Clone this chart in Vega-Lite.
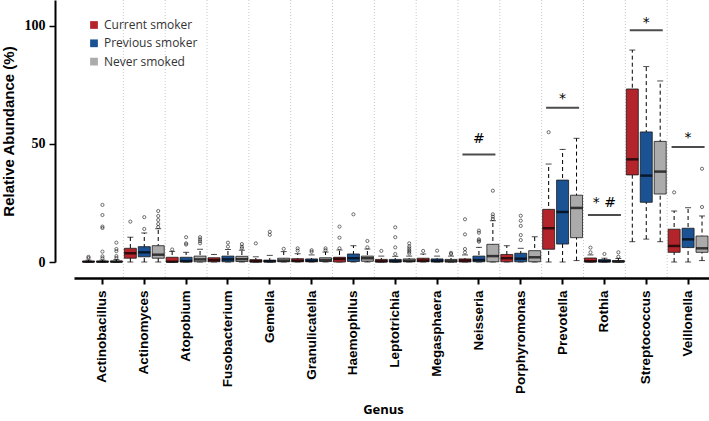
{
  "$schema": "https://vega.github.io/schema/vega-lite/v6.json",
  "width": 635,
  "height": 262,
  "autosize": {"type": "none"},
  "padding": {"left": 74, "top": 0, "right": 0, "bottom": 159},
  "background": "white",
  "config": {"view": {"stroke": null}},
  "datasets": {
    "boxes": [
      {"genus": "Actinobacillus", "group": "Current smoker", "lo": 0, "q1": 0, "med": 0.1, "q3": 0.3, "hi": 0.8},
      {"genus": "Actinobacillus", "group": "Previous smoker", "lo": 0, "q1": 0, "med": 0.1, "q3": 0.3, "hi": 0.8},
      {"genus": "Actinobacillus", "group": "Never smoked", "lo": 0, "q1": 0, "med": 0.1, "q3": 0.4, "hi": 1.0},
      {"genus": "Actinomyces", "group": "Current smoker", "lo": 0, "q1": 1.6, "med": 3.7, "q3": 5.8, "hi": 10.5},
      {"genus": "Actinomyces", "group": "Previous smoker", "lo": 0, "q1": 2.2, "med": 4.1, "q3": 6.5, "hi": 12.3},
      {"genus": "Actinomyces", "group": "Never smoked", "lo": 0, "q1": 1.6, "med": 3.1, "q3": 6.9, "hi": 14.1},
      {"genus": "Atopobium", "group": "Current smoker", "lo": 0, "q1": 0, "med": 0.1, "q3": 2.0, "hi": 4.5},
      {"genus": "Atopobium", "group": "Previous smoker", "lo": 0, "q1": 0, "med": 0.4, "q3": 2.0, "hi": 4.1},
      {"genus": "Atopobium", "group": "Never smoked", "lo": 0, "q1": 0.1, "med": 1.1, "q3": 2.5, "hi": 5.4},
      {"genus": "Fusobacterium", "group": "Current smoker", "lo": 0, "q1": 0.1, "med": 0.8, "q3": 1.8, "hi": 3.2},
      {"genus": "Fusobacterium", "group": "Previous smoker", "lo": 0, "q1": 0.1, "med": 1.1, "q3": 2.5, "hi": 5.3},
      {"genus": "Fusobacterium", "group": "Never smoked", "lo": 0, "q1": 0.2, "med": 1.2, "q3": 2.4, "hi": 5.0},
      {"genus": "Gemella", "group": "Current smoker", "lo": 0, "q1": 0, "med": 0.3, "q3": 1.0, "hi": 2.2},
      {"genus": "Gemella", "group": "Previous smoker", "lo": 0, "q1": 0, "med": 0.3, "q3": 0.8, "hi": 2.8},
      {"genus": "Gemella", "group": "Never smoked", "lo": 0, "q1": 0.1, "med": 0.6, "q3": 1.6, "hi": 4.4},
      {"genus": "Granulicatella", "group": "Current smoker", "lo": 0, "q1": 0.1, "med": 0.5, "q3": 1.4, "hi": 3.5},
      {"genus": "Granulicatella", "group": "Previous smoker", "lo": 0, "q1": 0.1, "med": 0.5, "q3": 1.3, "hi": 3.0},
      {"genus": "Granulicatella", "group": "Never smoked", "lo": 0, "q1": 0.2, "med": 0.8, "q3": 1.8, "hi": 4.2},
      {"genus": "Haemophilus", "group": "Current smoker", "lo": 0, "q1": 0, "med": 1.3, "q3": 2.0, "hi": 5.1},
      {"genus": "Haemophilus", "group": "Previous smoker", "lo": 0, "q1": 0.2, "med": 1.6, "q3": 3.4, "hi": 6.9},
      {"genus": "Haemophilus", "group": "Never smoked", "lo": 0, "q1": 0.3, "med": 1.6, "q3": 2.5, "hi": 5.5},
      {"genus": "Leptotrichia", "group": "Current smoker", "lo": 0, "q1": 0, "med": 0.3, "q3": 1.1, "hi": 2.5},
      {"genus": "Leptotrichia", "group": "Previous smoker", "lo": 0, "q1": 0, "med": 0.3, "q3": 1.1, "hi": 2.4},
      {"genus": "Leptotrichia", "group": "Never smoked", "lo": 0, "q1": 0.1, "med": 0.5, "q3": 1.3, "hi": 2.5},
      {"genus": "Megasphaera", "group": "Current smoker", "lo": 0, "q1": 0.1, "med": 0.6, "q3": 1.6, "hi": 3.4},
      {"genus": "Megasphaera", "group": "Previous smoker", "lo": 0, "q1": 0, "med": 0.5, "q3": 1.3, "hi": 2.5},
      {"genus": "Megasphaera", "group": "Never smoked", "lo": 0, "q1": 0, "med": 0.4, "q3": 1.1, "hi": 2.5},
      {"genus": "Neisseria", "group": "Current smoker", "lo": 0, "q1": 0, "med": 0.6, "q3": 1.3, "hi": 3.0},
      {"genus": "Neisseria", "group": "Previous smoker", "lo": 0, "q1": 0.1, "med": 0.8, "q3": 2.5, "hi": 6.2},
      {"genus": "Neisseria", "group": "Never smoked", "lo": 0, "q1": 0.1, "med": 2.5, "q3": 7.5, "hi": 17.5},
      {"genus": "Porphyromonas", "group": "Current smoker", "lo": 0, "q1": 0.1, "med": 1.6, "q3": 3.2, "hi": 6.9},
      {"genus": "Porphyromonas", "group": "Previous smoker", "lo": 0, "q1": 0.1, "med": 1.4, "q3": 3.7, "hi": 5.8},
      {"genus": "Porphyromonas", "group": "Never smoked", "lo": 0, "q1": 0.1, "med": 2.0, "q3": 4.8, "hi": 10.7},
      {"genus": "Prevotella", "group": "Current smoker", "lo": 0, "q1": 5.4, "med": 14.3, "q3": 22.3, "hi": 41.5},
      {"genus": "Prevotella", "group": "Previous smoker", "lo": 0, "q1": 7.6, "med": 21.2, "q3": 34.7, "hi": 47.7},
      {"genus": "Prevotella", "group": "Never smoked", "lo": 0.6, "q1": 10.3, "med": 22.9, "q3": 28.3, "hi": 52.4},
      {"genus": "Rothia", "group": "Current smoker", "lo": 0, "q1": 0, "med": 0.3, "q3": 1.7, "hi": 3.0},
      {"genus": "Rothia", "group": "Previous smoker", "lo": 0, "q1": 0, "med": 0.3, "q3": 1.0, "hi": 1.6},
      {"genus": "Rothia", "group": "Never smoked", "lo": 0, "q1": 0, "med": 0.2, "q3": 0.6, "hi": 1.5},
      {"genus": "Streptococcus", "group": "Current smoker", "lo": 8.6, "q1": 36.9, "med": 43.5, "q3": 73.3, "hi": 89.8},
      {"genus": "Streptococcus", "group": "Previous smoker", "lo": 9.7, "q1": 25.3, "med": 36.6, "q3": 55.1, "hi": 82.8},
      {"genus": "Streptococcus", "group": "Never smoked", "lo": 8.6, "q1": 28.8, "med": 38.3, "q3": 51.1, "hi": 76.7},
      {"genus": "Veillonella", "group": "Current smoker", "lo": 0, "q1": 4.1, "med": 6.8, "q3": 13.9, "hi": 21.6},
      {"genus": "Veillonella", "group": "Previous smoker", "lo": 0, "q1": 6.1, "med": 9.6, "q3": 14.3, "hi": 23.0},
      {"genus": "Veillonella", "group": "Never smoked", "lo": 0.6, "q1": 4.1, "med": 5.8, "q3": 11.0, "hi": 19.5}
    ],
    "outliers": [
      {"genus": "Actinobacillus", "group": "Current smoker", "value": 1.7},
      {"genus": "Actinobacillus", "group": "Current smoker", "value": 2.2},
      {"genus": "Actinobacillus", "group": "Previous smoker", "value": 24.2},
      {"genus": "Actinobacillus", "group": "Previous smoker", "value": 19.9},
      {"genus": "Actinobacillus", "group": "Previous smoker", "value": 15.0},
      {"genus": "Actinobacillus", "group": "Previous smoker", "value": 14.4},
      {"genus": "Actinobacillus", "group": "Previous smoker", "value": 4.4},
      {"genus": "Actinobacillus", "group": "Previous smoker", "value": 2.4},
      {"genus": "Actinobacillus", "group": "Previous smoker", "value": 1.6},
      {"genus": "Actinobacillus", "group": "Never smoked", "value": 8.2},
      {"genus": "Actinobacillus", "group": "Never smoked", "value": 5.5},
      {"genus": "Actinobacillus", "group": "Never smoked", "value": 4.6},
      {"genus": "Actinobacillus", "group": "Never smoked", "value": 2.5},
      {"genus": "Actinobacillus", "group": "Never smoked", "value": 1.7},
      {"genus": "Actinomyces", "group": "Current smoker", "value": 17.1},
      {"genus": "Actinomyces", "group": "Previous smoker", "value": 19.0},
      {"genus": "Actinomyces", "group": "Previous smoker", "value": 14.0},
      {"genus": "Actinomyces", "group": "Never smoked", "value": 21.6},
      {"genus": "Actinomyces", "group": "Never smoked", "value": 19.5},
      {"genus": "Actinomyces", "group": "Never smoked", "value": 17.8},
      {"genus": "Actinomyces", "group": "Never smoked", "value": 16.1},
      {"genus": "Actinomyces", "group": "Never smoked", "value": 14.8},
      {"genus": "Atopobium", "group": "Current smoker", "value": 5.3},
      {"genus": "Atopobium", "group": "Previous smoker", "value": 10.5},
      {"genus": "Atopobium", "group": "Previous smoker", "value": 7.9},
      {"genus": "Atopobium", "group": "Previous smoker", "value": 7.4},
      {"genus": "Atopobium", "group": "Never smoked", "value": 10.5},
      {"genus": "Atopobium", "group": "Never smoked", "value": 9.6},
      {"genus": "Atopobium", "group": "Never smoked", "value": 8.8},
      {"genus": "Atopobium", "group": "Never smoked", "value": 7.9},
      {"genus": "Fusobacterium", "group": "Previous smoker", "value": 8.2},
      {"genus": "Fusobacterium", "group": "Previous smoker", "value": 6.5},
      {"genus": "Fusobacterium", "group": "Never smoked", "value": 7.6},
      {"genus": "Fusobacterium", "group": "Never smoked", "value": 6.5},
      {"genus": "Fusobacterium", "group": "Never smoked", "value": 5.8},
      {"genus": "Gemella", "group": "Current smoker", "value": 7.9},
      {"genus": "Gemella", "group": "Previous smoker", "value": 12.8},
      {"genus": "Gemella", "group": "Previous smoker", "value": 11.5},
      {"genus": "Gemella", "group": "Never smoked", "value": 5.6},
      {"genus": "Granulicatella", "group": "Current smoker", "value": 5.8},
      {"genus": "Granulicatella", "group": "Current smoker", "value": 4.8},
      {"genus": "Granulicatella", "group": "Previous smoker", "value": 5.0},
      {"genus": "Granulicatella", "group": "Previous smoker", "value": 4.3},
      {"genus": "Granulicatella", "group": "Never smoked", "value": 5.8},
      {"genus": "Granulicatella", "group": "Never smoked", "value": 5.0},
      {"genus": "Haemophilus", "group": "Current smoker", "value": 15.0},
      {"genus": "Haemophilus", "group": "Current smoker", "value": 10.3},
      {"genus": "Haemophilus", "group": "Current smoker", "value": 5.8},
      {"genus": "Haemophilus", "group": "Previous smoker", "value": 20.2},
      {"genus": "Haemophilus", "group": "Never smoked", "value": 8.9},
      {"genus": "Haemophilus", "group": "Never smoked", "value": 6.2},
      {"genus": "Leptotrichia", "group": "Current smoker", "value": 4.7},
      {"genus": "Leptotrichia", "group": "Previous smoker", "value": 14.7},
      {"genus": "Leptotrichia", "group": "Previous smoker", "value": 10.5},
      {"genus": "Leptotrichia", "group": "Previous smoker", "value": 6.2},
      {"genus": "Leptotrichia", "group": "Previous smoker", "value": 3.4},
      {"genus": "Leptotrichia", "group": "Never smoked", "value": 7.9},
      {"genus": "Leptotrichia", "group": "Never smoked", "value": 6.6},
      {"genus": "Leptotrichia", "group": "Never smoked", "value": 5.8},
      {"genus": "Leptotrichia", "group": "Never smoked", "value": 5.0},
      {"genus": "Leptotrichia", "group": "Never smoked", "value": 4.3},
      {"genus": "Leptotrichia", "group": "Never smoked", "value": 3.6},
      {"genus": "Megasphaera", "group": "Current smoker", "value": 4.7},
      {"genus": "Megasphaera", "group": "Previous smoker", "value": 4.8},
      {"genus": "Megasphaera", "group": "Never smoked", "value": 3.9},
      {"genus": "Megasphaera", "group": "Never smoked", "value": 3.4},
      {"genus": "Neisseria", "group": "Current smoker", "value": 18.1},
      {"genus": "Neisseria", "group": "Current smoker", "value": 11.7},
      {"genus": "Neisseria", "group": "Current smoker", "value": 5.5},
      {"genus": "Neisseria", "group": "Current smoker", "value": 4.1},
      {"genus": "Neisseria", "group": "Previous smoker", "value": 13.3},
      {"genus": "Neisseria", "group": "Previous smoker", "value": 12.4},
      {"genus": "Neisseria", "group": "Previous smoker", "value": 9.6},
      {"genus": "Neisseria", "group": "Previous smoker", "value": 9.1},
      {"genus": "Neisseria", "group": "Previous smoker", "value": 8.6},
      {"genus": "Neisseria", "group": "Never smoked", "value": 30.2},
      {"genus": "Neisseria", "group": "Never smoked", "value": 20.2},
      {"genus": "Neisseria", "group": "Never smoked", "value": 19.2},
      {"genus": "Neisseria", "group": "Never smoked", "value": 18.2},
      {"genus": "Porphyromonas", "group": "Previous smoker", "value": 19.6},
      {"genus": "Porphyromonas", "group": "Previous smoker", "value": 17.5},
      {"genus": "Porphyromonas", "group": "Previous smoker", "value": 15.3},
      {"genus": "Porphyromonas", "group": "Previous smoker", "value": 11.4},
      {"genus": "Porphyromonas", "group": "Previous smoker", "value": 9.3},
      {"genus": "Prevotella", "group": "Current smoker", "value": 55.0},
      {"genus": "Rothia", "group": "Current smoker", "value": 6.1},
      {"genus": "Rothia", "group": "Current smoker", "value": 4.1},
      {"genus": "Rothia", "group": "Previous smoker", "value": 3.4},
      {"genus": "Rothia", "group": "Never smoked", "value": 4.1},
      {"genus": "Rothia", "group": "Never smoked", "value": 2.2},
      {"genus": "Veillonella", "group": "Current smoker", "value": 29.5},
      {"genus": "Veillonella", "group": "Never smoked", "value": 39.5},
      {"genus": "Veillonella", "group": "Never smoked", "value": 23.3}
    ],
    "sig": [
      {"genus": "Neisseria", "line": 45.5, "label": "#", "ty": 50.5},
      {"genus": "Prevotella", "line": 65.4, "label": "*", "ty": 67.5},
      {"genus": "Rothia", "line": 19.9, "label": "* #", "ty": 23.5},
      {"genus": "Streptococcus", "line": 98.2, "label": "*", "ty": 99.7},
      {"genus": "Veillonella", "line": 48.7, "label": "*", "ty": 50.7}
    ],
    "seps": [
      {"genus": "Actinomyces"}, {"genus": "Atopobium"}, {"genus": "Fusobacterium"}, {"genus": "Gemella"},
      {"genus": "Granulicatella"}, {"genus": "Haemophilus"}, {"genus": "Leptotrichia"}, {"genus": "Megasphaera"},
      {"genus": "Neisseria"}, {"genus": "Porphyromonas"}, {"genus": "Prevotella"}, {"genus": "Rothia"},
      {"genus": "Streptococcus"}, {"genus": "Veillonella"}
    ]
  },
  "layer": [
    {
      "data": {"name": "seps"},
      "mark": {"type": "rule", "color": "#c8c8c8", "strokeDash": [1, 2], "strokeWidth": 1},
      "encoding": {
        "x": {"field": "genus", "type": "nominal", "bandPosition": 0,
              "scale": {"domain": ["Actinobacillus", "Actinomyces", "Atopobium", "Fusobacterium", "Gemella", "Granulicatella", "Haemophilus", "Leptotrichia", "Megasphaera", "Neisseria", "Porphyromonas", "Prevotella", "Rothia", "Streptococcus", "Veillonella"], "paddingInner": 0, "paddingOuter": 0.09, "align": 1}},
        "y": {"datum": 111, "type": "quantitative", "scale": {"domain": [0, 111], "nice": false, "zero": false}},
        "y2": {"datum": -6.8}
      }
    },
    {
      "data": {"name": "boxes"},
      "mark": {"type": "rule", "color": "black", "strokeDash": [4, 3], "strokeWidth": 1},
      "encoding": {
        "x": {"field": "genus", "type": "nominal",
              "scale": {"domain": ["Actinobacillus", "Actinomyces", "Atopobium", "Fusobacterium", "Gemella", "Granulicatella", "Haemophilus", "Leptotrichia", "Megasphaera", "Neisseria", "Porphyromonas", "Prevotella", "Rothia", "Streptococcus", "Veillonella"], "paddingInner": 0, "paddingOuter": 0.09, "align": 1},
              "axis": {"title": "Genus", "labelAngle": -90, "labelAlign": "right", "labelBaseline": "middle",
                       "labelFont": "Liberation Sans", "labelFontWeight": "bold", "labelFontSize": 13.5, "labelColor": "black",
                       "labelPadding": 6, "tickSize": 6, "tickWidth": 2, "tickColor": "black",
                       "domainColor": "black", "domainWidth": 2.5, "offset": 16, "grid": false,
                       "titleFont": "Open Sans", "titleFontWeight": "bold", "titleFontSize": 13, "titleColor": "black",
                       "titleX": 309, "titleY": 135, "titleAlign": "center", "titleBaseline": "alphabetic"}},
        "xOffset": {"field": "group", "type": "nominal", "scale": {"domain": ["Current smoker", "Previous smoker", "Never smoked"], "paddingInner": 0, "paddingOuter": 0}},
        "y": {"field": "lo", "type": "quantitative", "scale": {"domain": [0, 111], "nice": false, "zero": false},
              "axis": {"title": "Relative Abundance (%)", "values": [0, 50, 100], "offset": 19, "grid": false,
                       "domainColor": "black", "domainWidth": 2, "tickColor": "black", "tickWidth": 1.5, "tickSize": 6,
                       "labelFont": "Liberation Sans Narrow", "labelFontWeight": "bold", "labelFontSize": 14, "labelColor": "black", "labelPadding": 4,
                       "titleFont": "Liberation Sans", "titleFontWeight": "bold", "titleFontSize": 15, "titleColor": "black", "titlePadding": 8}},
        "y2": {"field": "hi"}
      }
    },
    {
      "data": {"name": "boxes"},
      "mark": {"type": "tick", "color": "black", "size": 6, "thickness": 1},
      "encoding": {
        "x": {"field": "genus", "type": "nominal"},
        "xOffset": {"field": "group", "type": "nominal"},
        "y": {"field": "lo", "type": "quantitative"}
      }
    },
    {
      "data": {"name": "boxes"},
      "mark": {"type": "tick", "color": "black", "size": 6, "thickness": 1},
      "encoding": {
        "x": {"field": "genus", "type": "nominal"},
        "xOffset": {"field": "group", "type": "nominal"},
        "y": {"field": "hi", "type": "quantitative"}
      }
    },
    {
      "data": {"name": "boxes"},
      "mark": {"type": "bar", "size": 12, "stroke": "#1a1a1a", "strokeWidth": 0.8},
      "encoding": {
        "x": {"field": "genus", "type": "nominal"},
        "xOffset": {"field": "group", "type": "nominal"},
        "y": {"field": "q1", "type": "quantitative"},
        "y2": {"field": "q3"},
        "color": {"field": "group", "type": "nominal",
                  "scale": {"domain": ["Current smoker", "Previous smoker", "Never smoked"], "range": ["#b3242b", "#1b5294", "#ababab"]},
                  "legend": {"title": null, "orient": "none", "legendX": 14, "legendY": 19, "direction": "vertical",
                             "symbolType": "square", "symbolSize": 60, "symbolStrokeWidth": 0, "symbolOpacity": 1,
                             "labelFont": "Open Sans", "labelFontSize": 12, "labelColor": "#333333", "labelOffset": 4,
                             "rowPadding": 6.3, "padding": 0}}
      }
    },
    {
      "data": {"name": "boxes"},
      "mark": {"type": "tick", "color": "black", "size": 12, "thickness": 2.5},
      "encoding": {
        "x": {"field": "genus", "type": "nominal"},
        "xOffset": {"field": "group", "type": "nominal"},
        "y": {"field": "med", "type": "quantitative"}
      }
    },
    {
      "data": {"name": "outliers"},
      "mark": {"type": "point", "filled": false, "color": "black", "size": 10, "strokeWidth": 0.8},
      "encoding": {
        "x": {"field": "genus", "type": "nominal"},
        "xOffset": {"field": "group", "type": "nominal"},
        "y": {"field": "value", "type": "quantitative"}
      }
    },
    {
      "data": {"name": "sig"},
      "mark": {"type": "tick", "color": "black", "size": 33, "thickness": 2},
      "encoding": {
        "x": {"field": "genus", "type": "nominal"},
        "y": {"field": "line", "type": "quantitative"}
      }
    },
    {
      "data": {"name": "sig"},
      "mark": {"type": "text", "color": "black", "font": "DejaVu Sans", "fontSize": 14, "baseline": "alphabetic", "align": "center"},
      "encoding": {
        "x": {"field": "genus", "type": "nominal"},
        "y": {"field": "ty", "type": "quantitative"},
        "text": {"field": "label"}
      }
    }
  ]
}
